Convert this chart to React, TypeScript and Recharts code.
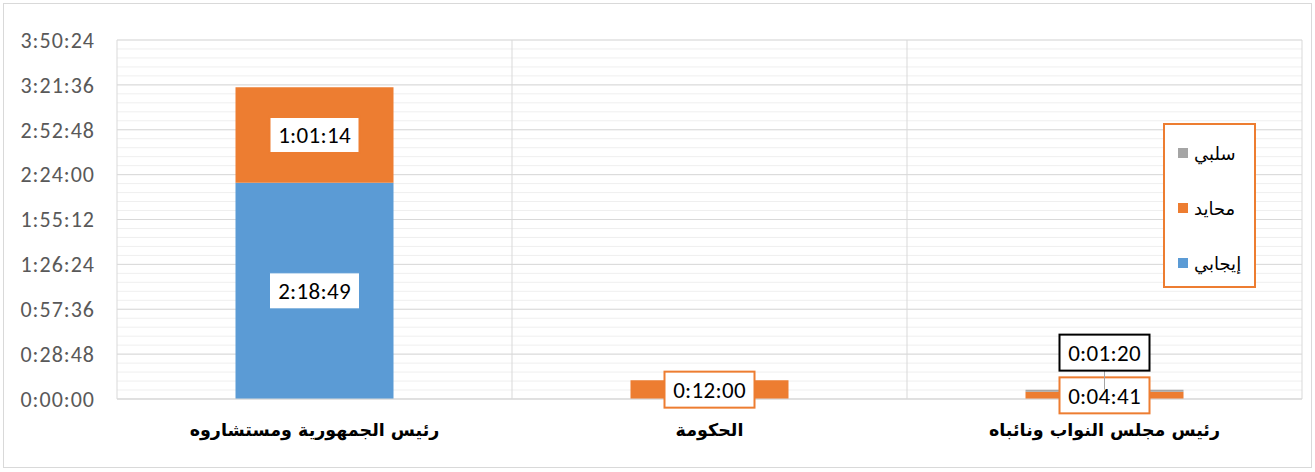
import { BarChart, Bar, XAxis, YAxis, CartesianGrid, Legend, LabelList } from 'recharts'

const categories = ['رئيس الجمهورية ومستشاروه', 'الحكومة', 'رئيس مجلس النواب ونائباه']
// durations in seconds
const positive = [8329, 0, 0] // 2:18:49
const neutral = [3674, 720, 281] // 1:01:14, 0:12:00, 0:04:41
const negative = [0, 0, 80] // 0:01:20
const yTicks = [0, 1728, 3456, 5184, 6912, 8640, 10368, 12096, 13824]
const seriesNames = { positive: 'إيجابي', neutral: 'محايد', negative: 'سلبي' }

const BLUE = '#5B9BD5'
const ORANGE = '#ED7D31'
const GRAY = '#A5A5A5'
const FONT = "Carlito, Calibri, 'Liberation Sans', Arial, sans-serif"

const data = categories.map((name, i) => ({
  name,
  positive: positive[i],
  neutral: neutral[i],
  negative: negative[i],
}))

const fmt = (s: number) => {
  const h = Math.floor(s / 3600)
  const m = Math.floor((s % 3600) / 60)
  const sec = Math.round(s % 60)
  return `${h}:${String(m).padStart(2, '0')}:${String(sec).padStart(2, '0')}`
}

function makeLabel(border: string, strokeW: number, lift = 0) {
  return (props: any) => {
    const { x, y, width, height, value } = props
    const v = Array.isArray(value) ? value[1] - value[0] : Number(value)
    if (!v) return null
    const cx = Number(x) + Number(width) / 2
    const cy = lift ? Number(y) - lift : Number(y) + Number(height) / 2
    const w = 90
    const h = 36
    return (
      <g>
        {lift ? <line x1={cx} x2={cx} y1={cy + h / 2} y2={Number(y)} stroke="#A5A5A5" strokeWidth={1} /> : null}
        <rect x={cx - w / 2} y={cy - h / 2} width={w} height={h} fill="#fff" stroke={border} strokeWidth={strokeW} />
        <text x={cx} y={cy} dy="0.36em" textAnchor="middle" fontSize={23} letterSpacing={0.3} fontFamily={FONT} fill="#000">
          {fmt(v)}
        </text>
      </g>
    )
  }
}

const LegendBox = () => {
  const items = [
    { label: seriesNames.negative, color: GRAY },
    { label: seriesNames.neutral, color: ORANGE },
    { label: seriesNames.positive, color: BLUE },
  ]
  return (
    <div
      style={{
        width: 93,
        height: 165,
        boxSizing: 'border-box',
        border: `2px solid ${ORANGE}`,
        background: '#fff',
        paddingLeft: 13,
        paddingTop: 16,
      }}
    >
      {items.map((it) => (
        <div key={it.label} style={{ display: 'flex', alignItems: 'center', gap: 6, height: 24, marginBottom: 31 }}>
          <span style={{ width: 10, height: 10, background: it.color, display: 'inline-block' }} />
          <span style={{ fontFamily: "'DejaVu Sans', sans-serif", fontSize: 18, color: '#000' }}>{it.label}</span>
        </div>
      ))}
    </div>
  )
}

export default function App() {
  return (
    <div style={{ position: 'absolute', left: 0, top: 0, width: 1315, height: 472, background: '#fff' }}>
      <div
        style={{
          position: 'absolute',
          left: 3,
          top: 3,
          width: 1309,
          height: 465,
          boxSizing: 'border-box',
          border: '1px solid #d9d9d9',
        }}
      />
      <BarChart
        width={1315}
        height={472}
        data={data}
        margin={{ top: 40, right: 13, bottom: 3, left: 0 }}
        barCategoryGap="30%"
        style={{ position: 'absolute', left: 0, top: 0 }}
      >
        <CartesianGrid
          vertical={false}
          stroke="#efefef"
          horizontalCoordinatesGenerator={({ offset }: any) =>
            Array.from({ length: 41 }, (_, i) => offset.top + (offset.height * i) / 40)
          }
        />
        <CartesianGrid
          stroke="#d9d9d9"
          verticalCoordinatesGenerator={({ offset }: any) =>
            [0, 1, 2, 3].map((i) => offset.left + (offset.width * i) / 3)
          }
        />
        <XAxis
          dataKey="name"
          height={70}
          axisLine={{ stroke: '#d9d9d9' }}
          tickLine={false}
          tickMargin={19}
          interval={0}
          tick={{ fill: '#000', fontSize: 17.5, fontWeight: 700, fontFamily: "'DejaVu Sans', sans-serif" }}
        />
        <YAxis
          width={117}
          domain={[0, 13824]}
          ticks={yTicks}
          tickFormatter={fmt}
          axisLine={false}
          tickLine={false}
          tickMargin={16}
          tick={{ fill: '#595959', fontSize: 22, letterSpacing: 1, fontFamily: FONT }}
        />
        <Legend
          layout="vertical"
          align="center"
          verticalAlign="middle"
          content={<LegendBox />}
          wrapperStyle={{ left: 1163, top: 123, width: 93, height: 165 }}
        />
        <Bar dataKey="positive" name={seriesNames.positive} stackId="a" fill={BLUE} isAnimationActive={false}>
          <LabelList dataKey="positive" content={makeLabel(BLUE, 1)} />
        </Bar>
        <Bar dataKey="neutral" name={seriesNames.neutral} stackId="a" fill={ORANGE} isAnimationActive={false}>
          <LabelList dataKey="neutral" content={makeLabel(ORANGE, 2)} />
        </Bar>
        <Bar dataKey="negative" name={seriesNames.negative} stackId="a" fill={GRAY} isAnimationActive={false}>
          <LabelList dataKey="negative" content={makeLabel('#000', 2, 37)} />
        </Bar>
      </BarChart>
    </div>
  )
}
